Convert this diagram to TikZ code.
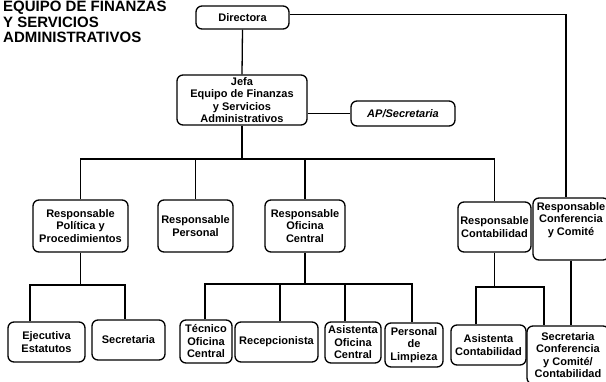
\documentclass[tikz,border=0pt]{standalone}
\usepackage{fontspec}
\setmainfont{Liberation Sans}
\begin{document}
\begin{tikzpicture}[x=1pt,y=-1pt,
  box/.style={draw, line width=1.3pt, rounded corners=6pt, align=center, inner sep=0pt,
    font=\bfseries\fontsize{11}{12.5}\selectfont},
  link/.style={line width=1.3pt},
  titletext/.style={anchor=base west, inner sep=0pt, font=\bfseries\fontsize{15}{16}\selectfont}]
\useasboundingbox (0,0) rectangle (606,381);
\fill[white] (0,0) rectangle (606,381);

% title
\node[titletext] (t1) at (3,11.5) {EQUIPO DE FINANZAS};
\node[titletext] (t2) at (3,27) {Y SERVICIOS};
\node[titletext] (t3) at (3,42.5) {ADMINISTRATIVOS};

% level 0/1
\node[box, minimum width=93pt, minimum height=23pt] (dir) at (242.5,17.5) {Directora};
\node[box, minimum width=130pt, minimum height=50pt] (jefa) at (242,100) {Jefa\\Equipo de Finanzas\\y Servicios\\Administrativos};
\node[box, minimum width=104pt, minimum height=25pt, font=\bfseries\itshape\fontsize{11}{12.5}\selectfont] (ap) at (403,113.5) {AP/Secretaria};

% level 2
\node[box, minimum width=95pt, minimum height=52pt] (pol) at (80.5,226) {Responsable\\Política y\\Procedimientos};
\node[box, minimum width=75pt, minimum height=52pt] (per) at (195.5,226) {Responsable\\Personal};
\node[box, minimum width=80pt, minimum height=52pt] (ofi) at (305,226) {Responsable\\Oficina\\Central};
\node[box, minimum width=73pt, minimum height=50pt] (con) at (494.5,227) {Responsable\\Contabilidad};
\node[box, minimum width=76pt, minimum height=62pt] (conf) at (571,229) {Responsable\\Conferencia\\y Comité\\[8pt]\mbox{}};

% level 3
\node[box, minimum width=77pt, minimum height=40pt] (ejec) at (46.5,342) {Ejecutiva\\Estatutos};
\node[box, minimum width=73pt, minimum height=40pt] (sec) at (128.5,340) {Secretaria};
\node[box, minimum width=52pt, minimum height=43pt] (tec) at (206,341.5) {Técnico\\Oficina\\Central};
\node[box, minimum width=83pt, minimum height=40pt] (rec) at (276.5,342) {Recepcionista};
\node[box, minimum width=56pt, minimum height=41pt] (asi) at (353,342.5) {Asistenta\\Oficina\\Central};
\node[box, minimum width=58pt, minimum height=44pt] (lim) at (414,345) {Personal\\de\\Limpieza};
\node[box, minimum width=75pt, minimum height=40pt] (asc) at (488.5,345) {Asistenta\\Contabilidad};
\node[box, minimum width=82pt, minimum height=58pt] (scc) at (568,355) {Secretaria\\Conferencia\\y Comité/\\Contabilidad};

% connectors
\coordinate (bus) at (0,159);
\draw[link] (dir.south) -- (jefa.north);
\draw[link] ([yshift=3pt]dir.east) -| ([xshift=-5pt]conf.north);
\draw[link] (jefa.east |- ap.west) -- (ap.west);
\draw[link] (jefa.south) -- (jefa.south |- bus);
\draw[link] (pol.north) |- (con.north |- bus) -- (con.north);
\draw[link] (per.north) -- (per.north |- bus);
\draw[link] (ofi.north) -- (ofi.north |- bus);

\coordinate (pa) at (30,285);
\coordinate (pb) at (125,285);
\draw[link] (pol.south) -- (pol.south |- pa);
\draw[link] (ejec.north -| pa) -- (pa) -- (pb) -- (sec.north -| pb);

\coordinate (oa) at (205,284);
\coordinate (ob) at (280,284);
\coordinate (oc) at (345,284);
\coordinate (od) at (412,284);
\draw[link] (ofi.south) -- (ofi.south |- oa);
\draw[link] (tec.north -| oa) -- (oa) -- (od) -- (lim.north -| od);
\draw[link] (ob) -- (rec.north -| ob);
\draw[link] (oc) -- (asi.north -| oc);

\coordinate (ca) at (476,287);
\coordinate (cb) at (544,287);
\draw[link] (con.south) -- (con.south |- ca);
\draw[link] (asc.north -| ca) -- (ca) -- (cb) -- (scc.north -| cb);
\draw[link] (conf.south) -- (conf.south |- scc.north);
\end{tikzpicture}
\end{document}
